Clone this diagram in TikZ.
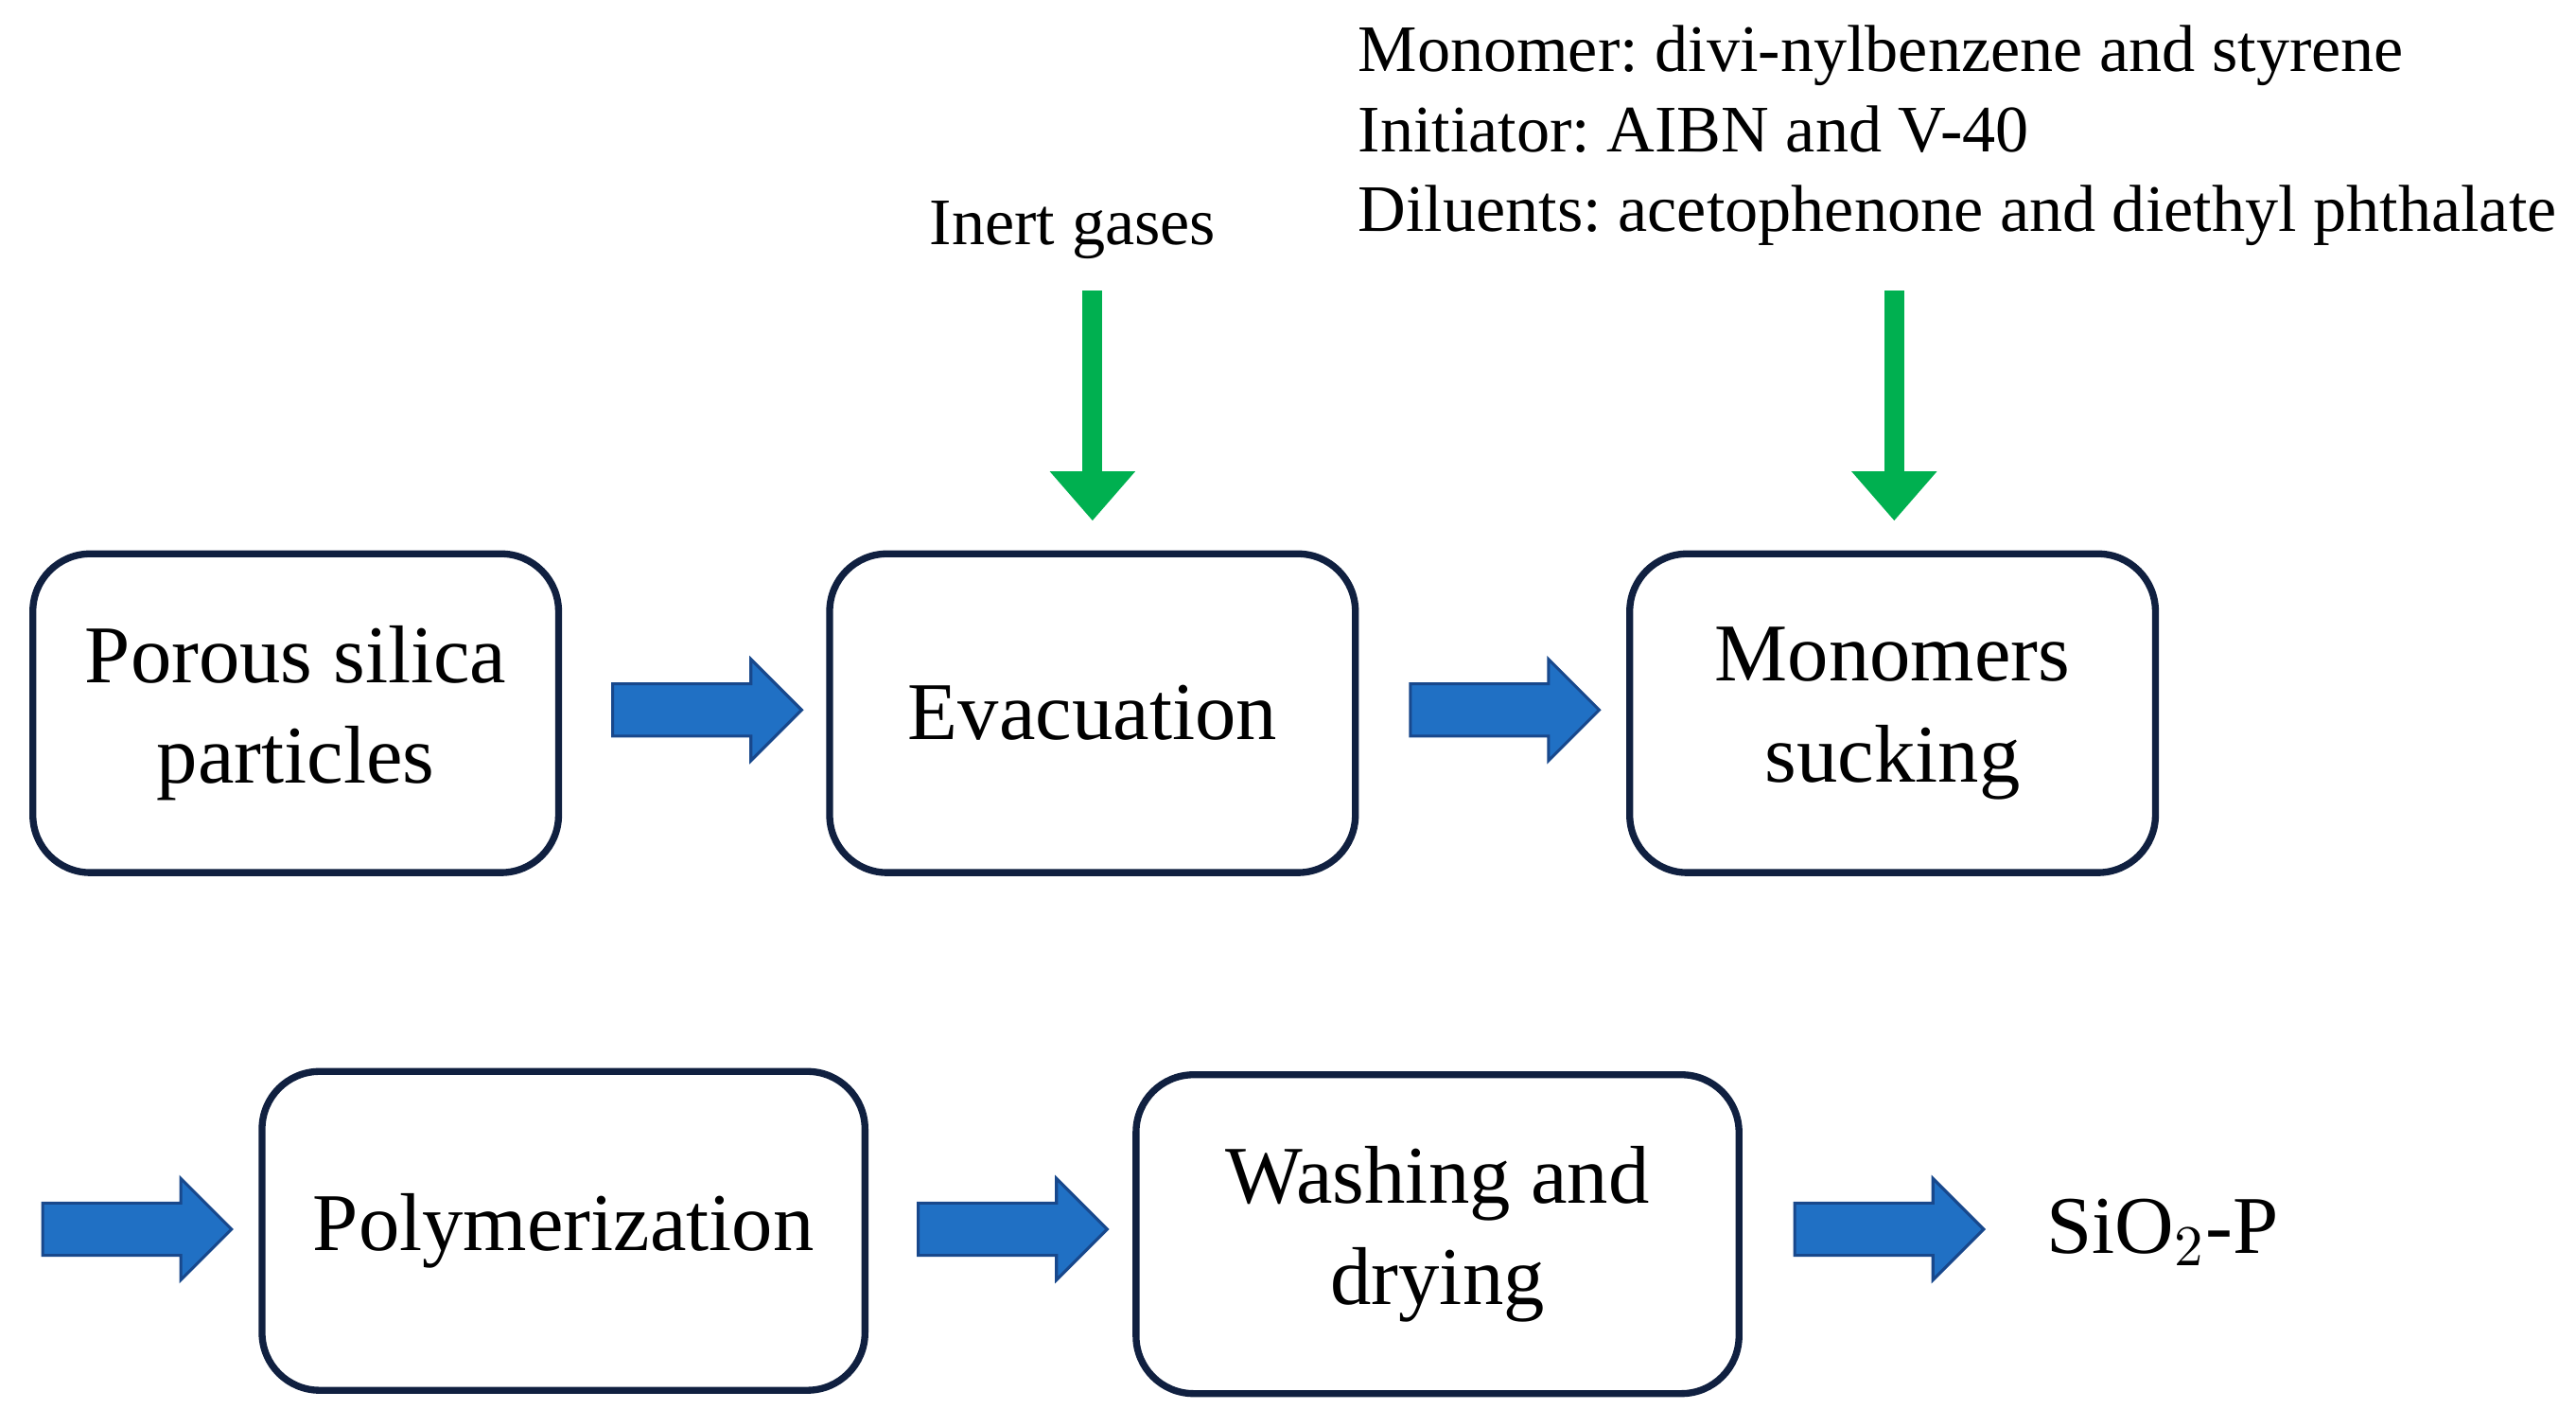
\documentclass[tikz,border=0pt]{standalone}
\usepackage{fontspec}
\setmainfont{Liberation Serif}
\usetikzlibrary{shapes.arrows,arrows.meta}
\definecolor{boxline}{RGB}{16,32,64}
\definecolor{flowblue}{RGB}{32,112,196}
\definecolor{flowedge}{RGB}{24,72,140}
\definecolor{feedgreen}{RGB}{0,176,80}
\frenchspacing

\begin{document}
\begin{tikzpicture}
\tikzstyle{stage}=[rectangle,draw=boxline,line width=1.2pt,rounded corners=0.35cm,align=center,font=\fontsize{14.2}{17.5}\selectfont]
\tikzstyle{flow}=[single arrow,draw=flowedge,fill=flowblue,line width=0.5pt,minimum height=1.15cm,inner xsep=0pt,inner ysep=0.15cm,single arrow head extend=0.15cm]
\tikzstyle{feed}=[draw=feedgreen,line width=3.4pt,-{Triangle[length=0.3cm,width=0.5cm]}]
\useasboundingbox (0,0) rectangle (15.68,8.68);

\node[stage,minimum width=3.2cm,minimum height=1.94cm] (porous) at (1.80,4.34) {Porous silica\\particles};
\node[stage,minimum width=3.2cm,minimum height=1.94cm] (evac) at (6.65,4.34) {Evacuation};
\node[stage,minimum width=3.2cm,minimum height=1.94cm] (suck) at (11.52,4.34) {Monomers\\sucking};
\node[stage,minimum width=3.67cm,minimum height=1.94cm] (poly) at (3.43,1.19) {Polymerization};
\node[stage,minimum width=3.67cm,minimum height=1.94cm] (wash) at (8.75,1.17) {Washing and\\drying};
\node[font=\fontsize{14.2}{17}\selectfont,anchor=west,inner sep=0pt] (prod) at (12.45,1.18) {SiO$_2$-P};

\node[flow] (f1) at (4.225,4.36) {};
\node[flow] (f2) at (9.08,4.36) {};
\node[flow] (f3) at (0.755,1.20) {};
\node[flow] (f4) at (6.085,1.20) {};
\node[flow] (f5) at (11.42,1.20) {};

\node[font=\fontsize{11.5}{14}\selectfont] (inert) at (6.53,7.28) {Inert gases};
\node[font=\fontsize{11.5}{13.8}\selectfont,align=left,anchor=north west,inner sep=0pt] (recipe) at (8.26,8.53)
  {Monomer: divi-nylbenzene and styrene\\Initiator: AIBN and V-40\\Diluents: acetophenone and diethyl phthalate};
\coordinate (g1) at (6.65,6.91);
\coordinate (g2) at (11.53,6.91);

\draw[feed] (g1) -- ([yshift=0.18cm]evac.north);
\draw[feed] (g2) -- ([yshift=0.18cm]evac.north -| g2);
\end{tikzpicture}
\end{document}
